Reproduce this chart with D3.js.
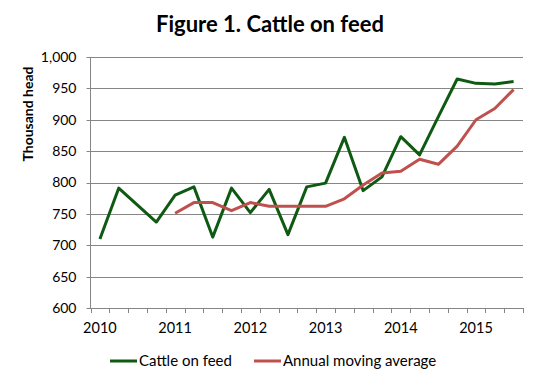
<!DOCTYPE html>
<html>
<head>
<meta charset="utf-8">
<script src="https://cdn.jsdelivr.net/npm/d3@7"></script>
<style>
	body { margin: 0; background: #fff; }
	svg { display: block; font-family: Lato, "Open Sans", sans-serif; }
</style>
</head>
<body>
<svg id="chart" width="543" height="382"></svg>
<script>
// quarterly points, Q1 2010 .. Q3 2015
const quarters = [
	'2010Q1', '2010Q2', '2010Q3', '2010Q4',
	'2011Q1', '2011Q2', '2011Q3', '2011Q4',
	'2012Q1', '2012Q2', '2012Q3', '2012Q4',
	'2013Q1', '2013Q2', '2013Q3', '2013Q4',
	'2014Q1', '2014Q2', '2014Q3', '2014Q4',
	'2015Q1', '2015Q2', '2015Q3'
];
const yearLabels = ['2010', '2011', '2012', '2013', '2014', '2015'];

const cattle = [710, 791, 764, 737, 780, 793, 713, 791, 752, 789, 717, 793,
	799, 872, 787, 809, 873, 844, 905, 965, 958, 957, 961];

// moving average only starts at Q1 2011
const movingAvg = [null, null, null, null,
	751, 768, 768, 755, 768, 762, 762, 762, 762, 774, 796, 815, 818, 837,
	829, 858, 900, 918, 948];

const yTicks = [600, 650, 700, 750, 800, 850, 900, 950, 1000];

const seriesNames = ['Cattle on feed', 'Annual moving average'];
const seriesColors = ['#0f5a12', '#c0504d'];

const width = 543,
	height = 382,
	margin = {
		top: 57,
		right: 20,
		bottom: 74,
		left: 90.5
	};

const svg = d3.select('#chart');

const x = d3.scaleBand()
	.domain(quarters)
	.range([margin.left, width - margin.right])
	.padding(0);

const y = d3.scaleLinear()
	.domain([600, 1000])
	.range([height - margin.bottom, margin.top]);

const fmt = d3.format(',d');
const gridColor = '#868686';

// gridlines
svg.append('g')
	.selectAll('line')
	.data(yTicks)
	.join('line')
	.attr('x1', margin.left - 4)
	.attr('x2', width - margin.right)
	.attr('y1', d => Math.round(y(d)) + 0.5)
	.attr('y2', d => Math.round(y(d)) + 0.5)
	.attr('stroke', gridColor)
	.attr('stroke-width', 1);

// y axis line
svg.append('line')
	.attr('x1', margin.left)
	.attr('x2', margin.left)
	.attr('y1', y(1000))
	.attr('y2', y(600))
	.attr('stroke', gridColor);

svg.append('g')
	.selectAll('text')
	.data(yTicks)
	.join('text')
	.attr('x', margin.left - 14)
	.attr('y', d => y(d))
	.attr('dy', '0.35em')
	.attr('text-anchor', 'end')
	.attr('font-size', 14)
	.attr('fill', '#000')
	.text(d => fmt(d));

// x axis: ticks at band edges, year labels in the Q1 band
const edges = quarters.map(q => x(q)).concat([x.range()[1]]);
svg.append('g')
	.selectAll('line')
	.data(edges)
	.join('line')
	.attr('x1', d => Math.round(d) + 0.5)
	.attr('x2', d => Math.round(d) + 0.5)
	.attr('y1', y(600))
	.attr('y2', y(600) + 5)
	.attr('stroke', gridColor);

svg.append('g')
	.selectAll('text')
	.data(yearLabels)
	.join('text')
	.attr('x', d => x(d + 'Q1') + x.bandwidth() / 2)
	.attr('y', y(600) + 25)
	.attr('text-anchor', 'middle')
	.attr('font-size', 14.5)
	.text(d => d);

// lines
const cx = q => x(q) + x.bandwidth() / 2;

const line = d3.line()
	.defined(d => d.v != null)
	.x(d => cx(d.q))
	.y(d => y(d.v));

[cattle, movingAvg].forEach((vals, i) => {
	const pts = quarters.map((q, j) => ({ q: q, v: vals[j] }));
	svg.append('path')
		.datum(pts)
		.attr('fill', 'none')
		.attr('stroke', seriesColors[i])
		.attr('stroke-width', 3)
		.attr('stroke-linejoin', 'round')
		.attr('d', line);
});

// title
svg.append('text')
	.attr('x', 270)
	.attr('y', 32)
	.attr('text-anchor', 'middle')
	.attr('font-size', 22)
	.attr('font-weight', 'bold')
	.text('Figure 1. Cattle on feed');

// y axis title
svg.append('text')
	.attr('transform', 'translate(33,114) rotate(-90)')
	.attr('text-anchor', 'middle')
	.attr('font-size', 14)
	.attr('font-weight', 'bold')
	.text('Thousand head');

// legend
const legendX = [110, 254];
const legend = svg.append('g')
	.selectAll('g')
	.data(seriesNames)
	.join('g')
	.attr('transform', (d, i) => `translate(${legendX[i]},361)`);

legend.append('line')
	.attr('x1', 0)
	.attr('x2', 27)
	.attr('stroke', (d, i) => seriesColors[i])
	.attr('stroke-width', 3);

legend.append('text')
	.attr('x', 29)
	.attr('dy', '0.35em')
	.attr('font-size', 15)
	.text(d => d);
</script>
</body>
</html>
